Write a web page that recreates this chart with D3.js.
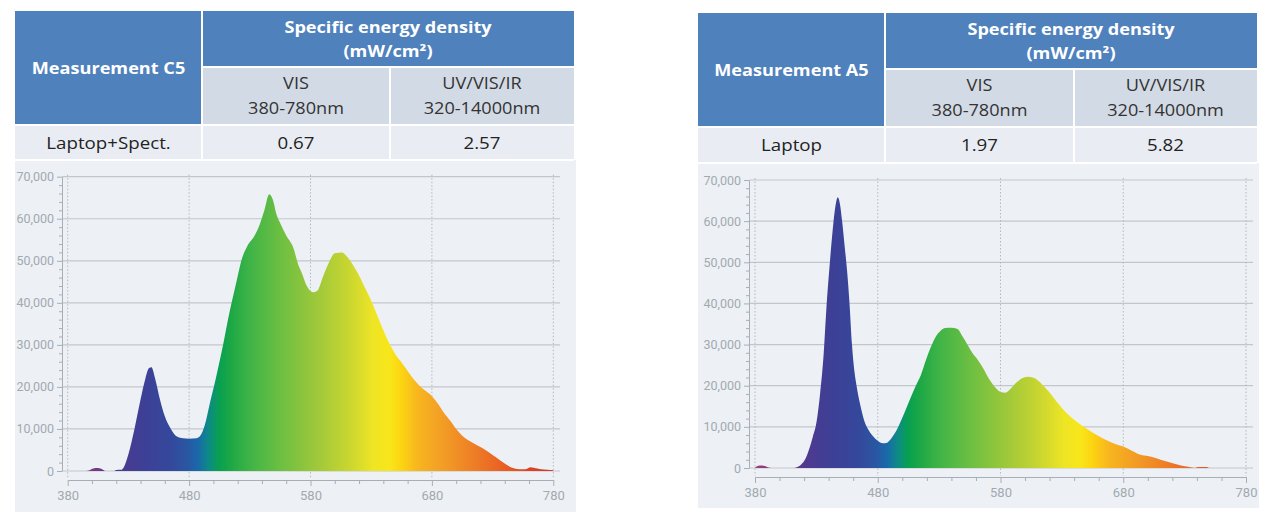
<!DOCTYPE html>
<html><head><meta charset="utf-8">
<script src="https://cdn.jsdelivr.net/npm/d3@7"></script>
<style>
html,body{margin:0;padding:0;background:#fff;}
svg{display:block;}
</style></head>
<body>
<svg id="chart" width="1280" height="525"></svg>
<script>
// ---------------- DATA ----------------
const measurementNames = ["Measurement C5", "Measurement A5"];
const headerTitle = ["Specific energy density", "(mW/cm²)"];
const bandLabels = [["VIS", "380-780nm"], ["UV/VIS/IR", "320-14000nm"]];
const rowLabels = ["Laptop+Spect.", "Laptop"];
const visValues = ["0.67", "1.97"];
const fullValues = ["2.57", "5.82"];

const wavelengthTicks = [380, 480, 580, 680, 780];
const valueTicks = [0, 10000, 20000, 30000, 40000, 50000, 60000, 70000];

const c5Wavelength = [380,395,398,401,405,409,411,418,420,424,426,430,435,440,444,447,449,452,456,460,465,470,475,480,486,489,493,497,502,508,512,515,519,523,528,534,538,542,546,549,552,555,560,566,570,573,577,582,586,590,595,600,606,610,615,620,625,630,635,640,645,650,655,660,665,670,675,680,685,690,695,700,705,710,715,720,725,730,735,740,745,750,755,758,761,764,767,770,775,780];
const c5Intensity = [0,0,200,600,700,300,0,0,250,300,800,4000,10000,17000,22000,24500,24700,22000,17000,13000,10000,8200,7800,7700,7800,8300,11000,16000,22000,30000,36000,40000,45000,50000,53500,56000,58500,62000,65800,64500,61000,59000,56000,53000,49000,47000,44000,42500,43000,46000,49500,51800,52000,51000,49000,46500,43500,40500,37000,33500,30300,27700,25800,23800,21800,20200,19000,17800,16000,13800,12000,10000,8400,7300,6500,5700,4800,3800,2800,1800,900,500,400,500,900,800,600,400,300,200];

const a5Wavelength = [380,381,384,388,391,393,412,415,418,421,424,427,430,433,436,438,441,444,446,447.5,449,451,453,455,457,459,461,463,466,469,472,476,480,484,487,491,495,500,506,511,515,519,523,527,531,535,540,545,549,553,557,561,566,571,576,580,584,588,593,598,603,608,613,618,623,628,633,638,643,650,658,666,673,680,687,694,700,707,714,721,727,733,736,738,741,748,750,780];
const a5Intensity = [0,300,600,500,100,0,0,300,1000,2200,4500,7500,11000,18000,28000,38000,50000,60000,64500,65800,64500,60000,54000,48000,40000,30000,23500,19500,15000,11500,9500,7800,6600,6000,6100,7200,9000,12200,16500,20000,22500,26000,29200,31800,33300,34000,34100,33800,32000,30000,28000,26500,24200,21500,19500,18500,18300,19200,20800,21900,22200,21800,20600,19000,17200,15300,13600,12200,11000,9600,8100,6800,5900,5200,4200,3200,2900,2400,1700,1100,600,300,100,0,250,250,0,0];

const spectrumWavelength = [380,400,420,440,465,478,487,496,505,515,530,555,585,612,632,645,655,668,690,715,740,760,780];
const spectrumColor = ["#9a3f78","#7d3a82","#51398f","#3e3f95","#34489c","#2a56a2","#1a68aa","#0d8a88","#08a050","#1ea845","#3fb447","#6cbf42","#9ec83a","#cad630","#eee524","#f8e61a","#fcd411","#f8b61f","#f29c25","#ee7d26","#e85e24","#dd4322","#d23a22"];

// ---------------- LAYOUT ----------------
const panels = [
  { name: measurementNames[0], row: rowLabels[0], vis: visValues[0], full: fullValues[0],
    wl: c5Wavelength, val: c5Intensity,
    x0: 15, x1: 576, top: 11, hdr: 67, sub: 125, rowB: 160, bottom: 512,
    c1: 202, c2: 390,
    px0: 67.7, px1: 553.3, py0: 471, py1: 176.7, yAxisX: 62, xAxisY: 480, gridR: 560 },
  { name: measurementNames[1], row: rowLabels[1], vis: visValues[1], full: fullValues[1],
    wl: a5Wavelength, val: a5Intensity,
    x0: 698, x1: 1259, top: 13, hdr: 69, sub: 127, rowB: 163, bottom: 508,
    c1: 885, c2: 1074,
    px0: 755, px1: 1246, py0: 468, py1: 180, yAxisX: 749, xAxisY: 477, gridR: 1253 }
];

const svg = d3.select("#chart");
const defs = svg.append("defs");
const tableFont = "'Open Sans', 'Noto Sans', sans-serif";
const axisFont = "'Liberation Sans Narrow', 'Roboto', sans-serif";
const blue = "#4f81bd", subBg = "#d2dae5", rowBg = "#e9edf3", panelBg = "#edf1f5";
const stretch = 1.17;

panels.forEach((p, i) => {
  const g = svg.append("g");
  // chart panel background
  g.append("rect").attr("x", p.x0).attr("y", p.rowB).attr("width", p.x1 - p.x0).attr("height", p.bottom - p.rowB).attr("fill", panelBg);
  // table cells
  g.append("rect").attr("x", p.x0).attr("y", p.top).attr("width", p.x1 - 2 - p.x0).attr("height", p.sub - p.top).attr("fill", blue);
  g.append("rect").attr("x", p.c1).attr("y", p.hdr).attr("width", p.x1 - 2 - p.c1).attr("height", p.sub - p.hdr).attr("fill", subBg);
  g.append("rect").attr("x", p.x0).attr("y", p.sub).attr("width", p.x1 - 2 - p.x0).attr("height", p.rowB - p.sub).attr("fill", rowBg);
  // white separators
  const sep = (x1, y1, x2, y2) => g.append("line").attr("x1", x1).attr("y1", y1).attr("x2", x2).attr("y2", y2).attr("stroke", "#fff").attr("stroke-width", 2);
  sep(p.c1, p.top, p.c1, p.rowB);
  sep(p.c2, p.hdr, p.c2, p.rowB);
  sep(p.c1, p.hdr, p.x1 - 2, p.hdr);
  sep(p.x0, p.sub, p.x1 - 2, p.sub);
  sep(p.x0, p.rowB, p.x1 - 2, p.rowB);

  const txt = (x, y, s, opts) => g.append("text")
      .attr("transform", `translate(${x},${y}) scale(${stretch},1)`).attr("text-anchor", "middle")
      .attr("font-family", tableFont).attr("font-size", opts.size || 16).attr("font-weight", opts.bold ? 700 : 400)
      .attr("fill", opts.fill || "#222").text(s);
  const cA = (p.x0 + p.c1) / 2, cB = (p.c1 + p.c2) / 2, cC = (p.c2 + p.x1 - 2) / 2, cH = (p.c1 + p.x1 - 2) / 2;
  txt(cA, (p.top + p.sub) / 2 + 6, p.name, { bold: true, fill: "#fff", size: 15.5 });
  txt(cH, p.top + 22, headerTitle[0], { bold: true, fill: "#fff", size: 15.5 });
  txt(cH, p.top + 46, headerTitle[1], { bold: true, fill: "#fff", size: 15.5 });
  txt(cB, p.hdr + 22, bandLabels[0][0], { size: 15.5, fill: "#333" });
  txt(cB, p.hdr + 47, bandLabels[0][1], { size: 15.5, fill: "#333" });
  txt(cC, p.hdr + 22, bandLabels[1][0], { size: 15.5, fill: "#333" });
  txt(cC, p.hdr + 47, bandLabels[1][1], { size: 15.5, fill: "#333" });
  txt(cA, p.sub + 24, p.row, { size: 16, fill: "#222" });
  txt(cB, p.sub + 24, p.vis, { size: 16, fill: "#222" });
  txt(cC, p.sub + 24, p.full, { size: 16, fill: "#222" });

  // scales
  const x = d3.scaleLinear().domain([380, 780]).range([p.px0, p.px1]);
  const y = d3.scaleLinear().domain([0, 70000]).range([p.py0, p.py1]);

  // gridlines
  g.append("g").selectAll("line").data(valueTicks).join("line")
    .attr("x1", p.yAxisX).attr("x2", p.gridR).attr("y1", d => y(d)).attr("y2", d => y(d))
    .attr("stroke", "#c3c7cc").attr("stroke-width", 1.2);
  g.append("g").selectAll("line").data(wavelengthTicks).join("line")
    .attr("x1", d => x(d)).attr("x2", d => x(d)).attr("y1", p.py1 - 2).attr("y2", p.xAxisY - 1)
    .attr("stroke", "#b3b8be").attr("stroke-width", 1).attr("stroke-dasharray", "1.5,2");

  // gradient
  const gid = "spec" + i;
  const grad = defs.append("linearGradient").attr("id", gid).attr("gradientUnits", "userSpaceOnUse")
    .attr("x1", x(380)).attr("x2", x(780)).attr("y1", 0).attr("y2", 0);
  spectrumWavelength.forEach((w, k) => grad.append("stop").attr("offset", (w - 380) / 400).attr("stop-color", spectrumColor[k]));

  const pts = p.wl.map((w, k) => [w, p.val[k]]);
  const area = d3.area().x(d => x(d[0])).y0(y(0)).y1(d => y(d[1])).curve(d3.curveMonotoneX);
  g.append("path").datum(pts).attr("d", area).attr("fill", `url(#${gid})`);

  // y axis
  const yAxis = d3.axisLeft(y).tickValues(valueTicks).tickFormat(d3.format(",")).tickSize(5).tickSizeOuter(0).tickPadding(3);
  const ya = g.append("g").attr("transform", `translate(${p.yAxisX},0)`).call(yAxis);
  const yMinor = d3.range(0, 70001, 2000).filter(v => v % 10000 !== 0);
  g.append("g").attr("transform", `translate(${p.yAxisX},0)`).call(d3.axisLeft(y).tickValues(yMinor).tickFormat("").tickSize(3).tickSizeOuter(0))
    .call(s => s.select(".domain").remove());
  // x axis
  const xAxis = d3.axisBottom(x).tickValues(wavelengthTicks).tickSize(6).tickSizeOuter(0).tickPadding(5);
  const xa = g.append("g").attr("transform", `translate(0,${p.xAxisY})`).call(xAxis);
  const xMinor = d3.range(400, 780, 20).filter(v => v % 100 !== 80);
  g.append("g").attr("transform", `translate(0,${p.xAxisY})`).call(d3.axisBottom(x).tickValues(xMinor).tickFormat("").tickSize(4).tickSizeOuter(0))
    .call(s => s.select(".domain").remove());
  svg.selectAll(".tick line, .domain").attr("stroke", "#a7aeb6");
  [ya, xa].forEach(a => a.selectAll("text").attr("font-family", axisFont).attr("font-size", 12.5).attr("fill", "#a2a9b1"));
  xa.selectAll("text").attr("font-size", 13);
});
</script>
</body></html>
